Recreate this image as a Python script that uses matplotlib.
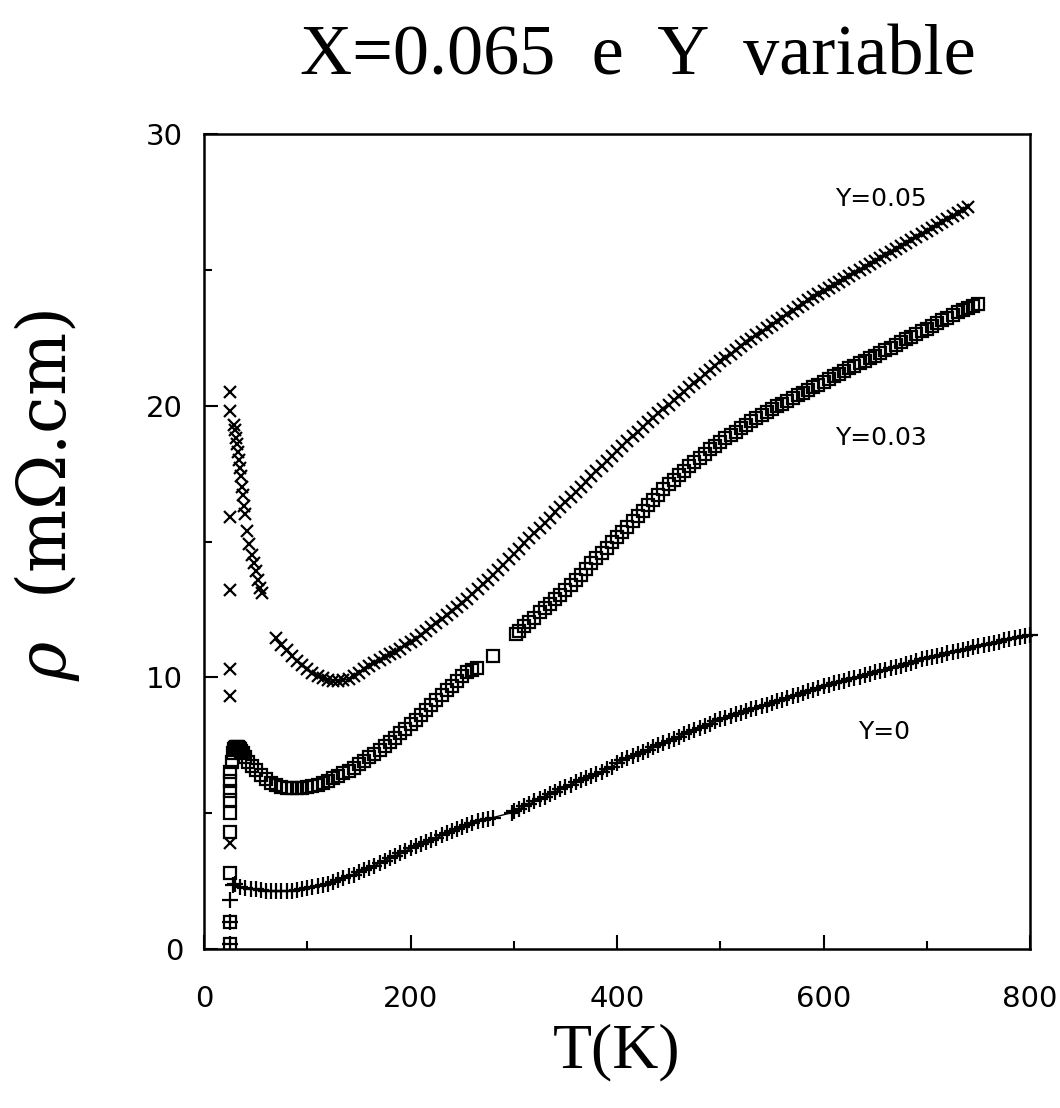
import matplotlib
matplotlib.use("Agg")
import matplotlib.pyplot as plt
from matplotlib.ticker import MultipleLocator

# --- data, (T in K, rho in mOhm.cm) pairs ---

# Y=0.05 (x markers)
y05_col = [(25, 20.5), (25, 19.8), (25, 15.9), (25, 13.2), (25, 10.3), (25, 9.3), (25, 3.9)]
y05_spike = [(29, 19.3), (30, 19.1), (31, 18.8), (32, 18.6), (33, 18.3), (34, 18.0), (35, 17.7),
             (36, 17.4), (37, 17.0), (38, 16.7), (39, 16.3), (40, 16.0), (42, 15.4), (44, 14.9),
             (46, 14.5), (48, 14.2), (50, 13.9), (52, 13.6), (54, 13.3), (56, 13.1)]
y05_main = [
    (70, 11.45), (75, 11.2), (80, 11.0), (85, 10.8), (90, 10.6), (95, 10.45), (100, 10.3),
    (105, 10.15), (110, 10.05), (115, 9.97), (120, 9.92), (125, 9.88), (130, 9.87), (135, 9.9),
    (140, 9.95), (145, 10.05), (150, 10.15), (155, 10.3), (160, 10.42), (165, 10.53),
    (170, 10.63), (175, 10.74), (180, 10.85), (185, 10.95), (190, 11.05), (195, 11.18),
    (200, 11.3), (205, 11.43), (210, 11.56), (215, 11.7), (220, 11.84), (225, 12.0), (230, 12.15),
    (235, 12.3), (240, 12.45), (245, 12.6), (250, 12.75), (255, 12.9), (260, 13.08), (265, 13.25),
    (270, 13.43), (275, 13.6), (280, 13.78), (285, 13.95), (290, 14.15), (295, 14.35),
    (300, 14.55), (305, 14.74), (310, 14.93), (315, 15.12), (320, 15.31), (325, 15.5),
    (330, 15.69), (335, 15.88), (340, 16.07), (345, 16.26), (350, 16.45), (355, 16.64),
    (360, 16.83), (365, 17.02), (370, 17.21), (375, 17.4), (380, 17.59), (385, 17.78),
    (390, 17.97), (395, 18.16), (400, 18.35), (405, 18.53), (410, 18.71), (415, 18.88),
    (420, 19.05), (425, 19.22), (430, 19.39), (435, 19.56), (440, 19.72), (445, 19.88),
    (450, 20.04), (455, 20.2), (460, 20.36), (465, 20.52), (470, 20.68), (475, 20.84),
    (480, 21.0), (485, 21.16), (490, 21.32), (495, 21.48), (500, 21.63), (505, 21.77),
    (510, 21.91), (515, 22.05), (520, 22.19), (525, 22.33), (530, 22.46), (535, 22.59),
    (540, 22.72), (545, 22.85), (550, 22.98), (555, 23.11), (560, 23.24), (565, 23.37),
    (570, 23.5), (575, 23.63), (580, 23.76), (585, 23.88), (590, 24.0), (595, 24.12),
    (600, 24.24), (605, 24.35), (610, 24.46), (615, 24.57), (620, 24.68), (625, 24.79),
    (630, 24.9), (635, 25.01), (640, 25.12), (645, 25.23), (650, 25.34), (655, 25.45),
    (660, 25.56), (665, 25.67), (670, 25.78), (675, 25.89), (680, 26.0), (685, 26.11),
    (690, 26.22), (695, 26.33), (700, 26.44), (705, 26.55), (710, 26.66), (715, 26.77),
    (720, 26.88), (725, 26.99), (730, 27.1), (735, 27.2), (740, 27.3)]

# Y=0.03 (open squares)
y03_col = [(25, 0.2), (25, 1.0), (25, 2.8), (25, 4.3), (25, 5.0), (25, 5.5), (25, 5.8), (25, 6.2),
           (25, 6.5)]
y03_low = [
    (27, 6.9), (28, 7.2), (29, 7.35), (30, 7.4), (31, 7.45), (32, 7.45), (33, 7.45), (34, 7.4),
    (35, 7.35), (36, 7.3), (38, 7.2), (40, 7.05), (43, 6.9), (46, 6.75), (50, 6.6), (55, 6.4),
    (60, 6.25), (65, 6.12), (70, 6.03), (75, 5.97), (80, 5.93), (85, 5.92), (90, 5.92),
    (95, 5.93), (100, 5.96), (105, 6.0), (110, 6.05), (115, 6.12), (120, 6.2), (125, 6.28),
    (130, 6.37), (135, 6.47), (140, 6.57), (145, 6.68), (150, 6.8), (155, 6.92), (160, 7.05),
    (165, 7.18), (170, 7.32), (175, 7.47), (180, 7.62), (185, 7.78), (190, 7.94), (195, 8.1),
    (200, 8.27), (205, 8.44), (210, 8.62), (215, 8.8), (220, 8.98), (225, 9.16), (230, 9.34),
    (235, 9.52), (240, 9.7), (245, 9.88), (250, 10.05), (255, 10.18), (260, 10.28), (264, 10.35),
    (280, 10.8)]
y03_high = [
    (302, 11.6), (305, 11.72), (310, 11.9), (315, 12.05), (320, 12.2), (325, 12.4), (330, 12.55),
    (335, 12.7), (340, 12.9), (345, 13.05), (350, 13.2), (355, 13.4), (360, 13.58), (365, 13.78),
    (370, 13.98), (375, 14.2), (380, 14.4), (385, 14.58), (390, 14.78), (395, 14.98),
    (400, 15.15), (405, 15.35), (410, 15.55), (415, 15.75), (420, 15.95), (425, 16.13),
    (430, 16.33), (435, 16.53), (440, 16.73), (445, 16.92), (450, 17.1), (455, 17.28),
    (460, 17.46), (465, 17.6), (470, 17.77), (475, 17.92), (480, 18.08), (485, 18.24),
    (490, 18.4), (495, 18.52), (500, 18.66), (505, 18.8), (510, 18.92), (515, 19.05),
    (520, 19.17), (525, 19.3), (530, 19.42), (535, 19.53), (540, 19.65), (545, 19.76),
    (550, 19.87), (555, 19.98), (560, 20.08), (565, 20.18), (570, 20.28), (575, 20.38),
    (580, 20.48), (585, 20.58), (590, 20.68), (595, 20.78), (600, 20.88), (605, 20.98),
    (610, 21.08), (615, 21.18), (620, 21.28), (625, 21.38), (630, 21.48), (635, 21.57),
    (640, 21.66), (645, 21.75), (650, 21.84), (655, 21.94), (660, 22.04), (665, 22.14),
    (670, 22.24), (675, 22.34), (680, 22.44), (685, 22.54), (690, 22.64), (695, 22.74),
    (700, 22.84), (705, 22.94), (710, 23.04), (715, 23.14), (720, 23.24), (725, 23.34),
    (730, 23.44), (735, 23.53), (740, 23.6), (745, 23.68), (750, 23.75)]

# Y=0 (plus markers)
y00_col = [(25, 1.8), (25, 1.0), (25, 0.2)]
y00_main = [
    (28, 2.35), (30, 2.4), (35, 2.3), (40, 2.25), (45, 2.22), (50, 2.2), (55, 2.17), (60, 2.15),
    (65, 2.13), (70, 2.12), (75, 2.12), (80, 2.13), (85, 2.15), (90, 2.17), (95, 2.2), (100, 2.23),
    (105, 2.27), (110, 2.31), (115, 2.36), (120, 2.41), (125, 2.47), (130, 2.53), (135, 2.6),
    (140, 2.67), (145, 2.74), (150, 2.82), (155, 2.9), (160, 2.98), (165, 3.07), (170, 3.16),
    (175, 3.25), (180, 3.34), (185, 3.43), (190, 3.52), (195, 3.61), (200, 3.7), (205, 3.78),
    (210, 3.86), (215, 3.94), (220, 4.02), (225, 4.1), (230, 4.18), (235, 4.26), (240, 4.34),
    (245, 4.42), (250, 4.5), (255, 4.57), (260, 4.64), (265, 4.7), (270, 4.76), (275, 4.8),
    (280, 4.84), (298, 5.02), (300, 5.08), (305, 5.16), (310, 5.25), (315, 5.34), (320, 5.43),
    (325, 5.52), (330, 5.61), (335, 5.7), (340, 5.79), (345, 5.88), (350, 5.97), (355, 6.05),
    (360, 6.13), (365, 6.21), (370, 6.29), (375, 6.37), (380, 6.45), (385, 6.53), (390, 6.61),
    (395, 6.69), (400, 6.85), (405, 6.94), (410, 7.02), (415, 7.1), (420, 7.18), (425, 7.26),
    (430, 7.34), (435, 7.42), (440, 7.5), (445, 7.58), (450, 7.66), (455, 7.74), (460, 7.82),
    (465, 7.9), (470, 7.98), (475, 8.06), (480, 8.14), (485, 8.22), (490, 8.3), (495, 8.38),
    (500, 8.45), (505, 8.52), (510, 8.58), (515, 8.64), (520, 8.7), (525, 8.76), (530, 8.82),
    (535, 8.88), (540, 8.94), (545, 9.0), (550, 9.06), (555, 9.12), (560, 9.18), (565, 9.24),
    (570, 9.3), (575, 9.36), (580, 9.43), (585, 9.49), (590, 9.55), (595, 9.62), (600, 9.68),
    (605, 9.73), (610, 9.78), (615, 9.83), (620, 9.88), (625, 9.93), (630, 9.98), (635, 10.03),
    (640, 10.08), (645, 10.13), (650, 10.18), (655, 10.23), (660, 10.28), (665, 10.33),
    (670, 10.38), (675, 10.43), (680, 10.48), (685, 10.54), (690, 10.6), (695, 10.66),
    (700, 10.72), (705, 10.76), (710, 10.8), (715, 10.84), (720, 10.88), (725, 10.92),
    (730, 10.96), (735, 11.0), (740, 11.05), (745, 11.1), (750, 11.15), (755, 11.2), (760, 11.24),
    (765, 11.28), (770, 11.32), (775, 11.36), (780, 11.4), (785, 11.44), (790, 11.48),
    (795, 11.52), (800, 11.56)]

curve_labels = ["Y=0.05", "Y=0.03", "Y=0"]
label_pos = [(611, 27.6), (611, 18.8), (633, 8.0)]


def xy(points):
    return [p[0] for p in points], [p[1] for p in points]


# --- figure ---
fig = plt.figure(figsize=(10.6, 11.08), dpi=100)
ax = fig.add_axes([0.1925, 0.1435, 0.7792, 0.7355])

mk = dict(color="black", linestyle="none", mew=1.6)
# Y=0.05
ax.plot(*xy(y05_col), marker="x", ms=9, **mk)
ax.plot(*xy(y05_spike), marker="x", ms=9, **mk)
ax.plot(*xy(y05_main), marker="x", ms=9, color="black", lw=1.0, mew=1.6)
# Y=0.03
ax.plot(*xy(y03_col), marker="s", ms=8, mfc="none", **mk)
ax.plot(*xy(y03_low), marker="s", ms=8, mfc="none", **mk)
ax.plot(*xy(y03_high), marker="s", ms=8, mfc="none", **mk)
# Y=0
ax.plot(*xy(y00_col), marker="+", ms=12, **mk)
ax.plot(*xy(y00_main), marker="+", ms=12, color="black", lw=1.0, mew=1.6, clip_on=False)

for txt, (tx, ry) in zip(curve_labels, label_pos):
    ax.text(tx, ry, txt, fontsize=18, family="DejaVu Sans", va="center", ha="left")

ax.set_xlim(0, 800)
ax.set_ylim(0, 30)
ax.xaxis.set_major_locator(MultipleLocator(200))
ax.xaxis.set_minor_locator(MultipleLocator(100))
ax.yaxis.set_major_locator(MultipleLocator(10))
ax.yaxis.set_minor_locator(MultipleLocator(5))
ax.tick_params(which="both", direction="in", width=1.5, labelsize=21)
ax.tick_params(which="major", length=10)
ax.tick_params(which="minor", length=6)
ax.tick_params(axis="x", which="both", pad=26)
ax.tick_params(axis="y", which="both", pad=15)
for s in ax.spines.values():
    s.set_linewidth(1.8)

fig.text(0.602, 0.949, "X=0.065  e  Y  variable", fontsize=52, family="Liberation Serif",
         ha="center", va="center")
fig.text(0.582, 0.050, "T(K)", fontsize=46, family="Liberation Serif", ha="center", va="center")
plt.rcParams["mathtext.fontset"] = "dejavuserif"
fig.text(0.044, 0.553, r"$\rho$  (mΩ.cm)", fontsize=48, family="DejaVu Serif", rotation=90,
         ha="center", va="center")

fig.savefig("out.png", dpi=100)
